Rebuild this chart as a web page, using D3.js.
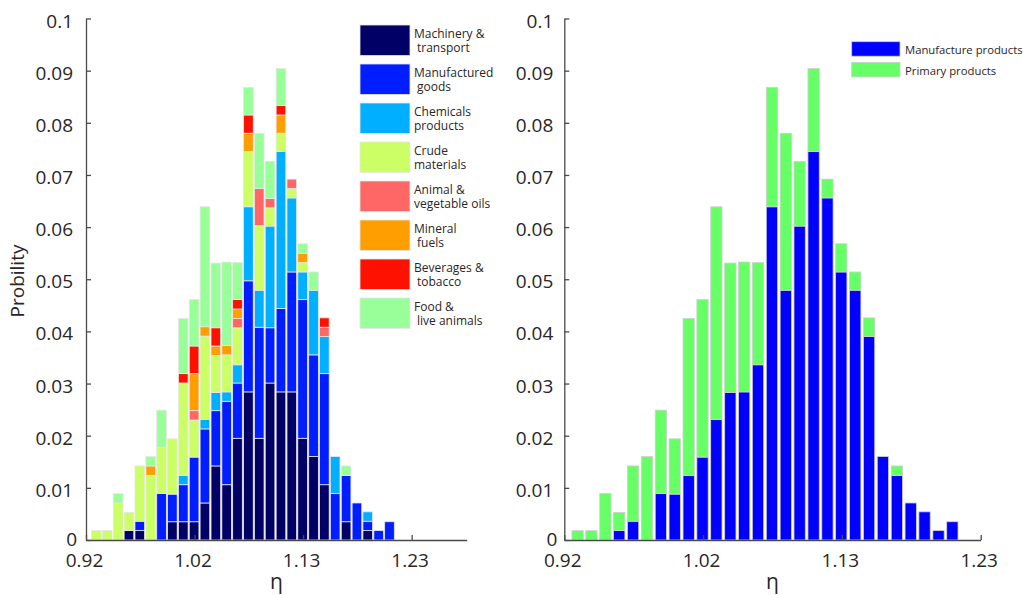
<!DOCTYPE html>
<html>
<head>
<meta charset="utf-8">
<script src="https://cdn.jsdelivr.net/npm/d3@7"></script>
<style>
  body { margin: 0; background: #fff; }
  svg { display: block; font-family: "Open Sans", sans-serif; }
  .axis path, .axis line { stroke: #4a4a4a; stroke-width: 1.3; }
  .axis text { fill: #2a2526; font-size: 19px; font-family: "Open Sans", sans-serif; }
</style>
</head>
<body>
<script>
// bin centres (eta) and stacked probabilities per product group
const etaBins = [0.9299, 0.9402, 0.9506, 0.9609, 0.9712, 0.9816, 0.9919, 1.0022, 1.0126, 1.0229,
                 1.0332, 1.0436, 1.0539, 1.0642, 1.0746, 1.0849, 1.0952, 1.1056, 1.1159, 1.1262,
                 1.1366, 1.1469, 1.1572, 1.1676, 1.1779, 1.1882, 1.1986, 1.2089]

const machinery = [0, 0, 0, 0.0018, 0.0018, 0, 0, 0.0035, 0.0035, 0.0035, 0.0071, 0.0142, 0.0106, 0.0195,
                   0.0284, 0.0195, 0.0301, 0.0284, 0.0284, 0.0195, 0.0160, 0.0106, 0, 0.0035, 0, 0.0018, 0, 0]
const manufactured = [0, 0, 0, 0, 0.0018, 0, 0.0089, 0.0053, 0.0071, 0.0124, 0.0142, 0.0106, 0.0160, 0.0106,
                      0.0213, 0.0213, 0.0106, 0.0160, 0.0230, 0.0266, 0.0195, 0.0213, 0.0089, 0.0089, 0.0071, 0.0018, 0.0018, 0.0035]
const chemicals = [0, 0, 0, 0, 0, 0, 0, 0, 0.0018, 0, 0.0018, 0.0035, 0.0018, 0.0035,
                   0.0142, 0.0071, 0.0195, 0.0301, 0.0142, 0.0053, 0.0124, 0.0071, 0.0071, 0, 0, 0.0018, 0, 0]
const crude = [0.0018, 0.0018, 0.0071, 0.0035, 0.0106, 0.0124, 0.0089, 0.0106, 0.0177, 0.0071, 0.0160, 0.0071, 0.0071, 0.0071,
               0.0106, 0.0124, 0.0035, 0.0035, 0.0018, 0.0018, 0, 0, 0, 0, 0, 0, 0, 0]
const oils = [0, 0, 0, 0, 0, 0, 0, 0, 0, 0.0018, 0, 0, 0, 0.0018,
              0, 0.0071, 0.0018, 0, 0.0018, 0, 0, 0.0018, 0, 0, 0, 0, 0, 0]
const fuels = [0, 0, 0, 0, 0, 0.0018, 0, 0, 0, 0.0071, 0.0018, 0.0018, 0.0018, 0.0018,
               0.0035, 0, 0, 0.0035, 0, 0.0018, 0, 0, 0, 0, 0, 0, 0, 0]
const beverages = [0, 0, 0, 0, 0, 0, 0, 0, 0.0018, 0.0053, 0, 0.0035, 0, 0.0018,
                   0.0035, 0, 0, 0.0018, 0, 0, 0, 0.0018, 0, 0, 0, 0, 0, 0]
const food = [0, 0, 0.0018, 0, 0, 0.0018, 0.0071, 0, 0.0106, 0.0089, 0.0230, 0.0124, 0.0160, 0.0071,
              0.0053, 0.0106, 0.0071, 0.0071, 0, 0.0018, 0.0035, 0, 0, 0.0018, 0, 0, 0, 0]

const leftKeys = ['machinery', 'manufactured', 'chemicals', 'crude', 'oils', 'fuels', 'beverages', 'food']
const leftColors = ['#000066', '#001eff', '#00afff', '#ccff66', '#ff6666', '#ff9e00', '#ff1100', '#99ff99']
const leftLabels = [['Machinery &', ' transport'], ['Manufactured', ' goods'], ['Chemicals', 'products'],
                    ['Crude', 'materials'], ['Animal &', 'vegetable oils'], ['Mineral', ' fuels'],
                    ['Beverages &', ' tobacco'], ['Food &', ' live animals']]

const rightKeys = ['manufacture', 'primary']
const rightColors = ['#0000ff', '#66ff66']
const rightLabels = ['Manufacture products', 'Primary products']

const yTicks = [0, 0.01, 0.02, 0.03, 0.04, 0.05, 0.06, 0.07, 0.08, 0.09, 0.1]
const xTicks = [0.92, 1.02333, 1.12667, 1.23]
const xTickLabels = ['0.92', '1.02', '1.13', '1.23']

const binWidth = 0.010333

const leftTable = etaBins.map((eta, i) => ({
    eta: eta,
    machinery: machinery[i], manufactured: manufactured[i], chemicals: chemicals[i],
    crude: crude[i], oils: oils[i], fuels: fuels[i], beverages: beverages[i], food: food[i]
}))
const rightTable = etaBins.map((eta, i) => ({
    eta: eta,
    manufacture: machinery[i] + manufactured[i] + chemicals[i],
    primary: crude[i] + oils[i] + fuels[i] + beverages[i] + food[i]
}))

const svg = d3.select('body')
    .append('svg')
    .attr('width', 1023)
    .attr('height', 595)

const y = d3.scaleLinear().domain([0, 0.1]).range([540, 18.5])

function drawPanel(opts) {
    const g = svg.append('g')
    const x = d3.scaleLinear().domain(opts.domain).range(opts.range)
    const bw = (x(binWidth) - x(0)) * opts.barFrac

    const series = d3.stack().keys(opts.keys)(opts.table)
    g.selectAll('g.series')
        .data(series)
        .enter()
        .append('g')
        .attr('class', 'series')
        .attr('fill', (d, i) => opts.colors[i])
        .selectAll('rect')
        .data(d => d.filter(p => p[1] - p[0] > 0))
        .enter()
        .append('rect')
        .attr('x', d => x(d.data.eta) - bw / 2)
        .attr('width', bw)
        .attr('y', d => y(d[1]))
        .attr('height', d => y(d[0]) - y(d[1]))
        .attr('stroke', opts.edge)
        .attr('stroke-width', 0.8)

    const yAxis = d3.axisLeft(y)
        .tickValues(yTicks)
        .tickFormat(d => d === 0 ? '0' : d3.format('.2~f')(d))
        .tickSizeInner(-5)
        .tickSizeOuter(0)
        .tickPadding(opts.yPad)
    g.append('g')
        .attr('class', 'axis')
        .attr('transform', `translate(${opts.range[0]},0)`)
        .call(yAxis)
        .call(a => a.selectAll('text').attr('dy', '0.45em'))
        .call(a => a.selectAll('.tick').filter(d => d === 0).select('text').attr('dx', 4).attr('dy', '0.3em'))

    const xAxis = d3.axisBottom(x)
        .tickValues(xTicks)
        .tickFormat((d, i) => xTickLabels[i])
        .tickSizeInner(-5)
        .tickSizeOuter(0)
    g.append('g')
        .attr('class', 'axis')
        .attr('transform', 'translate(0,540)')
        .call(xAxis)
        .call(a => a.selectAll('text').attr('dy', null).attr('y', 27).attr('dx', -2))
        .call(a => a.select('.domain').attr('stroke', '#222'))

    g.append('text')
        .attr('x', (opts.range[0] + opts.range[1]) / 2)
        .attr('y', 589)
        .attr('text-anchor', 'middle')
        .attr('font-size', 21)
        .attr('fill', '#2a2526')
        .text('η')
    return g
}

drawPanel({
    table: leftTable, keys: leftKeys, colors: leftColors,
    domain: [0.92, 1.2824], range: [86, 466.7], barFrac: 0.89,
    edge: '#e6e6e6', yPad: 13
})

drawPanel({
    table: rightTable, keys: rightKeys, colors: rightColors,
    domain: [0.92, 1.23], range: [564.3, 980.7], barFrac: 0.815,
    edge: '#d0d0d0', yPad: 11
})

svg.append('text')
    .attr('transform', 'translate(24,281) rotate(-90)')
    .attr('text-anchor', 'middle')
    .attr('font-size', 19)
    .attr('fill', '#2a2526')
    .text('Probility')

// left legend
const leg = svg.append('g')
leftLabels.forEach((lines, i) => {
    const top = 25 + i * 39
    leg.append('rect')
        .attr('x', 360).attr('y', top)
        .attr('width', 50).attr('height', 30.5)
        .attr('fill', leftColors[i])
        .attr('stroke', '#e6e6e6').attr('stroke-width', 0.8)
    lines.forEach((s, j) => {
        leg.append('text')
            .attr('x', 414 + (s.startsWith(' ') ? 3 : 0))
            .attr('y', top + 13.3 + j * 14)
            .attr('font-size', 12)
            .attr('fill', '#2a2526')
            .text(s.trim())
    })
})

// right legend
const leg2 = svg.append('g')
rightLabels.forEach((s, i) => {
    const top = 41.7 + i * 20.7
    leg2.append('rect')
        .attr('x', 851.7).attr('y', top)
        .attr('width', 48.3).attr('height', 14.5)
        .attr('fill', rightColors[i])
        .attr('stroke', '#cccccc').attr('stroke-width', 0.8)
    leg2.append('text')
        .attr('x', 905)
        .attr('y', top + 12.5)
        .attr('font-size', 11.3)
        .attr('fill', '#2a2526')
        .text(s)
})
</script>
</body>
</html>
